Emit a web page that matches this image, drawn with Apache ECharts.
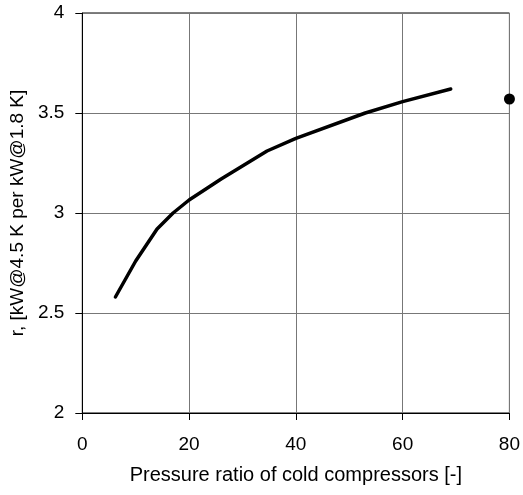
<!DOCTYPE html>
<html>
<head>
<meta charset="utf-8">
<script src="https://cdn.jsdelivr.net/npm/echarts@6/dist/echarts.min.js"></script>
<style>
  html, body { margin: 0; padding: 0; background: #fff; }
  #chart { width: 523px; height: 495px; }
</style>
</head>
<body>
<div id="chart"></div>
<script>
// curve: pressure ratio vs r
const ratio = [6.2, 10, 14, 17, 20, 26, 34.6, 40, 53, 60, 69];
const rValue = [2.58, 2.76, 2.92, 3.0, 3.065, 3.17, 3.31, 3.373, 3.5, 3.557, 3.62];
// single point
const pointX = [80];
const pointY = [3.57];

const curveData = ratio.map((x, i) => [x, rValue[i]]);
const pointData = pointX.map((x, i) => [x, pointY[i]]);

const textFont = "Liberation Sans, Arial, sans-serif";

const myChart = echarts.init(document.getElementById("chart"), null, { renderer: "canvas" });
myChart.setOption({
  animation: false,
  backgroundColor: "#fff",
  grid: {
    left: 80,
    right: 12,
    top: 13,
    bottom: 82,
    show: true,
    borderColor: "#000",
    borderWidth: 1,
  },
  xAxis: {
    type: "value",
    min: 0,
    max: 80,
    interval: 20,
    name: "Pressure ratio of cold compressors [-]",
    nameLocation: "middle",
    nameGap: 52,
    nameTextStyle: { color: "#000", fontSize: 20, fontFamily: textFont },
    axisLine: { lineStyle: { color: "#000", width: 1 } },
    axisTick: { show: true, length: 7, lineStyle: { color: "#000" } },
    axisLabel: { color: "#000", fontSize: 19, fontFamily: textFont, margin: 22 },
    splitLine: { show: true, lineStyle: { color: "#777", width: 1 } },
  },
  yAxis: {
    type: "value",
    min: 2,
    max: 4,
    interval: 0.5,
    name: "r, [kW@4.5 K per kW@1.8 K]",
    nameLocation: "middle",
    nameGap: 54,
    nameTextStyle: { color: "#000", fontSize: 19, fontFamily: textFont },
    axisLine: { show: true, lineStyle: { color: "#000", width: 1 } },
    axisTick: { show: true, length: 7, lineStyle: { color: "#000" } },
    axisLabel: { color: "#000", fontSize: 19, fontFamily: textFont, margin: 18 },
    splitLine: { show: true, lineStyle: { color: "#777", width: 1 } },
  },
  series: [
    {
      type: "line",
      data: curveData,
      showSymbol: false,
      smooth: false,
      lineStyle: { color: "#000", width: 3.5, cap: "round", join: "round" },
    },
    {
      type: "scatter",
      data: pointData,
      symbol: "circle",
      symbolSize: 11,
      clip: false,
      itemStyle: { color: "#000", opacity: 1 },
    },
  ],
});
</script>
</body>
</html>
